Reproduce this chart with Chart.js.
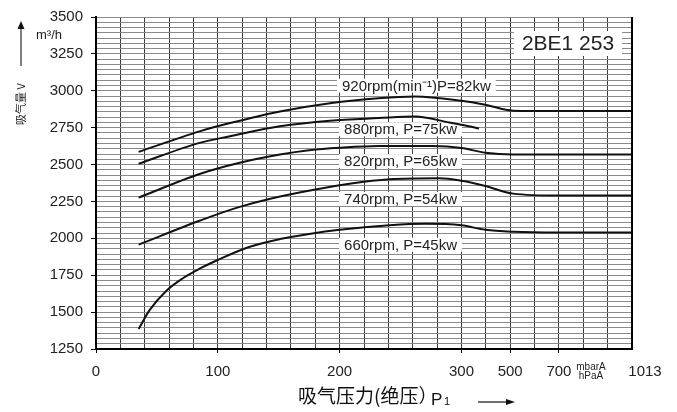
<!DOCTYPE html>
<html>
<head>
<meta charset="utf-8">
<script src="https://cdn.jsdelivr.net/npm/chart.js@4.4.0/dist/chart.umd.min.js"></script>
<style>
  html, body { margin: 0; padding: 0; background: #fff; }
  #wrap { width: 677px; height: 412px; }
</style>
</head>
<body>
<div id="wrap"><canvas id="pumpChart"></canvas></div>
<script>
// x axis: pressure ticks and the grid column each one sits on (the scale is not linear)
const pressureTicks = [0, 100, 200, 300, 500, 700, 1013];
const tickColumns = [0, 5, 10, 15, 17, 19, 22];
const gridColumns = 22;

// y axis: labelled flow ticks, each gap split in 7 grid rows
const flowTicks = [1250, 1500, 1750, 2000, 2250, 2500, 2750, 3000, 3250, 3500];
const rowsPerTick = 7;

// curves: suction pressure p (mbar) -> suction volume q (m3/h)
const p920 = [35, 85, 110, 151, 192, 232, 262, 300, 398, 512, 700, 1013];
const q920 = [2586, 2725, 2781, 2860, 2916, 2950, 2962, 2932, 2905, 2865, 2863, 2863];

const p880 = [35, 85, 110, 151, 192, 232, 262, 290, 330, 372];
const q880 = [2505, 2647, 2692, 2759, 2797, 2815, 2826, 2785, 2760, 2745];

const p820 = [35, 85, 118, 151, 175, 200, 232, 276, 300, 398, 512, 700, 1013];
const q820 = [2276, 2436, 2512, 2568, 2597, 2614, 2626, 2625, 2612, 2580, 2568, 2568, 2568];

const p740 = [35, 85, 118, 167, 241, 282, 300, 398, 512, 700, 1013];
const q740 = [1957, 2119, 2213, 2310, 2400, 2407, 2390, 2355, 2303, 2290, 2290];

const p660 = [35, 44, 58, 71, 85, 99, 125, 151, 175, 200, 241, 270, 300, 398, 512, 700, 1013];
const q660 = [1385, 1513, 1647, 1728, 1794, 1850, 1940, 1995, 2030, 2058, 2088, 2098, 2088, 2058, 2045, 2040, 2040];

const curveNames = ['920rpm(min⁻¹)P=82kw', '880rpm, P=75kw', '820rpm, P=65kw', '740rpm, P=54kw', '660rpm, P=45kw'];
const labelPressure = [263, 250, 250, 250, 250];
const labelFlow = [3035, 2739, 2523, 2267, 1957];

const modelName = '2BE1 253';

// pressure -> grid column, piecewise between the printed ticks
const toColumn = (p) => {
    for (let i = 1; i < pressureTicks.length; i++) {
        if (p <= pressureTicks[i]) {
            const a = pressureTicks[i - 1], b = pressureTicks[i];
            return tickColumns[i - 1] + (p - a) / (b - a) * (tickColumns[i] - tickColumns[i - 1]);
        }
    }
    return tickColumns[tickColumns.length - 1];
};

const isMajorFlow = (v) => flowTicks.some(t => Math.abs(t - v) < 0.5);

const curve = (ps, qs) => ({
    data: ps.map((p, i) => ({ x: toColumn(p), y: qs[i] })),
    showLine: true,
    borderColor: '#111',
    borderWidth: 2,
    pointRadius: 0,
    cubicInterpolationMode: 'monotone'
});

const FONT = '"Liberation Sans", Arial, sans-serif';

const decor = {
    id: 'decor',
    beforeDatasetsDraw(chart) {
        const { ctx, chartArea, scales: { x, y } } = chart;
        ctx.save();
        ctx.font = '15px ' + FONT;
        ctx.textAlign = 'center';
        ctx.textBaseline = 'middle';
        curveNames.forEach((t, i) => {
            const cx = x.getPixelForValue(toColumn(labelPressure[i]));
            const cy = y.getPixelForValue(labelFlow[i]);
            const w = ctx.measureText(t).width + 10;
            ctx.fillStyle = '#fff';
            ctx.fillRect(cx - w / 2, cy - 7, w, 14);
            ctx.fillStyle = '#222';
            ctx.fillText(t, cx, cy + 1);
        });
        // model name box, top right
        ctx.font = '21px ' + FONT;
        const mx = chartArea.right - 64, my = chartArea.top + 26;
        ctx.fillStyle = '#fff';
        ctx.fillRect(mx - 54, my - 12, 108, 25);
        ctx.fillStyle = '#222';
        ctx.fillText(modelName, mx, my + 1);
        ctx.restore();
    },
    afterDraw(chart) {
        const { ctx, chartArea } = chart;
        ctx.save();
        // right frame
        ctx.strokeStyle = '#000';
        ctx.lineWidth = 2;
        ctx.beginPath();
        ctx.moveTo(chartArea.right, chartArea.top);
        ctx.lineTo(chartArea.right, chartArea.bottom);
        ctx.stroke();

        ctx.fillStyle = '#222';
        ctx.textBaseline = 'middle';
        // 1013 and units at the end of the x axis
        ctx.textAlign = 'center';
        ctx.font = '15px ' + FONT;
        ctx.fillText(String(pressureTicks[pressureTicks.length - 1]), chartArea.right + 13, 372);
        ctx.font = '10px ' + FONT;
        ctx.fillText('mbarA', 591, 367);
        ctx.fillText('hPaA', 591, 376);

        // y unit
        ctx.font = '13px ' + FONT;
        ctx.fillText('m³/h', 49, 35);

        // y title, rotated, with arrow up
        ctx.save();
        ctx.translate(21, 104);
        ctx.rotate(-Math.PI / 2);
        ctx.font = '11px "Noto Sans CJK SC", sans-serif';
        ctx.fillText('吸气量 V', 0, 0);
        ctx.restore();
        ctx.strokeStyle = '#555';
        ctx.lineWidth = 1.5;
        ctx.beginPath();
        ctx.moveTo(21, 66);
        ctx.lineTo(21, 26);
        ctx.stroke();
        ctx.fillStyle = '#111';
        ctx.beginPath();
        ctx.moveTo(21, 21);
        ctx.lineTo(17.5, 29);
        ctx.lineTo(24.5, 29);
        ctx.closePath();
        ctx.fill();

        // x title with arrow
        ctx.fillStyle = '#111';
        ctx.textAlign = 'left';
        ctx.font = '19px "Noto Sans CJK SC", sans-serif';
        ctx.fillText('吸气压力(绝压）', 298, 396);
        ctx.font = '17px ' + FONT;
        ctx.fillText('P', 431, 400);
        ctx.font = '11px ' + FONT;
        ctx.fillText('1', 444, 402);
        ctx.strokeStyle = '#111';
        ctx.lineWidth = 1.2;
        ctx.beginPath();
        ctx.moveTo(478, 402);
        ctx.lineTo(508, 402);
        ctx.stroke();
        ctx.beginPath();
        ctx.moveTo(515, 402);
        ctx.lineTo(506, 399);
        ctx.lineTo(506, 405);
        ctx.closePath();
        ctx.fill();
        ctx.restore();
    }
};

const chartCanvas = document.getElementById('pumpChart');
const myChart = new Chart(chartCanvas, {
    type: 'scatter',
    data: {
        datasets: [curve(p920, q920), curve(p880, q880), curve(p820, q820), curve(p740, q740), curve(p660, q660)]
    },
    options: {
        responsive: true,
        maintainAspectRatio: false,
        animation: false,
        layout: { padding: { top: 15, right: 45, left: 0, bottom: 0 } },
        plugins: { legend: { display: false }, tooltip: { enabled: false } },
        scales: {
            x: {
                type: 'linear',
                min: 0,
                max: gridColumns,
                afterBuildTicks: (s) => {
                    s.ticks = Array.from({ length: gridColumns + 1 }, (_, k) => ({ value: k }));
                },
                afterFit: (s) => { s.height = 63; },
                ticks: {
                    autoSkip: false,
                    maxRotation: 0,
                    padding: 10,
                    color: '#222',
                    font: { family: FONT, size: 15 },
                    callback: (v) => {
                        const i = tickColumns.indexOf(v);
                        return (i >= 0 && v !== gridColumns) ? String(pressureTicks[i]) : '';
                    }
                },
                grid: {
                    color: '#3a3a3a',
                    lineWidth: 1,
                    tickLength: 4,
                    tickColor: (c) => (c.tick && tickColumns.includes(c.tick.value) && c.tick.value !== gridColumns) ? '#000' : 'rgba(0,0,0,0)'
                },
                border: { color: '#000', width: 2 }
            },
            y: {
                type: 'linear',
                min: flowTicks[0],
                max: flowTicks[flowTicks.length - 1],
                afterBuildTicks: (s) => {
                    const ticks = [];
                    const n = (flowTicks.length - 1) * rowsPerTick;
                    const step = (flowTicks[1] - flowTicks[0]) / rowsPerTick;
                    for (let k = 0; k <= n; k++) ticks.push({ value: flowTicks[0] + k * step });
                    s.ticks = ticks;
                },
                afterFit: (s) => { s.width = 96; },
                ticks: {
                    autoSkip: false,
                    padding: 8,
                    color: '#222',
                    font: { family: FONT, size: 15 },
                    callback: (v) => isMajorFlow(v) ? String(Math.round(v)) : ''
                },
                grid: {
                    color: '#8a8a8a',
                    lineWidth: 1,
                    tickLength: 5,
                    tickColor: (c) => (c.tick && isMajorFlow(c.tick.value)) ? '#000' : 'rgba(0,0,0,0)'
                },
                border: { color: '#000', width: 2 }
            }
        }
    },
    plugins: [decor]
});
</script>
</body>
</html>
